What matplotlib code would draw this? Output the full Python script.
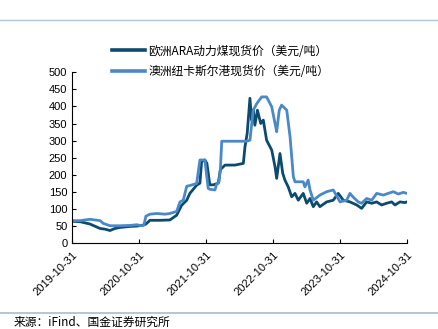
import pandas as pd
import matplotlib
matplotlib.use("Agg")
import matplotlib.pyplot as plt
from matplotlib.lines import Line2D

plt.rcParams['font.family'] = ['Liberation Sans', 'Noto Sans CJK SC', 'DejaVu Sans']

# 欧洲ARA动力煤现货价 (USD/t)
eu_dates = ['2019-10-31', '2019-12-12', '2020-02-05', '2020-03-31', '2020-04-27',
            '2020-05-24', '2020-06-20', '2020-07-17', '2020-09-10', '2020-10-17',
            '2020-11-22', '2020-12-06', '2020-12-28', '2021-02-21', '2021-04-16',
            '2021-05-23', '2021-06-19', '2021-07-17', '2021-08-03', '2021-09-09',
            '2021-09-27', '2021-10-06', '2021-10-24', '2021-11-04', '2021-11-20',
            '2021-12-09', '2022-01-05', '2022-01-17', '2022-02-11', '2022-04-06',
            '2022-05-22', '2022-05-31', '2022-06-12', '2022-06-27', '2022-07-06',
            '2022-07-15', '2022-07-24', '2022-08-07', '2022-08-25', '2022-09-08',
            '2022-09-26', '2022-10-24', '2022-11-11', '2022-11-20', '2022-12-08',
            '2022-12-23', '2023-01-04', '2023-01-22', '2023-02-10', '2023-02-28',
            '2023-03-18', '2023-04-14', '2023-05-03', '2023-05-21', '2023-06-08',
            '2023-06-26', '2023-07-14', '2023-08-20', '2023-09-25', '2023-10-22',
            '2023-11-19', '2023-12-25', '2024-01-31', '2024-02-27', '2024-03-25',
            '2024-04-22', '2024-05-19', '2024-06-15', '2024-07-12', '2024-08-09',
            '2024-08-27', '2024-09-23', '2024-10-20', '2024-10-31']
eu_values = [63, 62, 55, 42, 40,
             36, 42, 45, 48, 49,
             52, 55, 66, 66, 67,
             81, 110, 125, 145, 169,
             175, 238, 243, 233, 170,
             170, 175, 215, 228, 228,
             233, 282, 321, 424, 360,
             390, 345, 389, 350, 360,
             301, 272, 223, 189, 262,
             204, 184, 164, 135, 145,
             125, 145, 116, 130, 106,
             120, 106, 120, 125, 145,
             125, 120, 111, 101, 120,
             116, 120, 111, 116, 120,
             111, 120, 118, 120]

# 澳洲纽卡斯尔港现货价 (USD/t)
au_dates = ['2019-10-31', '2019-12-12', '2020-02-05', '2020-03-03', '2020-03-31',
            '2020-04-17', '2020-05-24', '2020-07-17', '2020-09-10', '2020-10-17',
            '2020-11-13', '2020-11-25', '2020-12-06', '2020-12-28', '2021-02-03',
            '2021-03-20', '2021-04-16', '2021-05-23', '2021-06-10', '2021-06-28',
            '2021-07-17', '2021-08-03', '2021-09-09', '2021-09-27', '2021-10-24',
            '2021-11-11', '2021-11-20', '2021-12-18', '2021-12-27', '2022-01-09',
            '2022-01-17', '2022-01-24', '2022-06-09', '2022-06-27', '2022-07-15',
            '2022-08-04', '2022-08-30', '2022-09-26', '2022-10-24', '2022-11-11',
            '2022-11-20', '2022-12-04', '2022-12-17', '2023-01-14', '2023-02-01',
            '2023-02-19', '2023-02-28', '2023-04-14', '2023-04-23', '2023-05-11',
            '2023-05-21', '2023-06-08', '2023-07-14', '2023-08-20', '2023-09-25',
            '2023-11-01', '2023-12-07', '2023-12-25', '2024-01-10', '2024-02-08',
            '2024-02-27', '2024-03-25', '2024-04-22', '2024-05-19', '2024-06-24',
            '2024-07-21', '2024-08-18', '2024-09-14', '2024-10-11', '2024-10-31']
au_values = [65, 65, 69, 67, 65,
             57, 50, 50, 51, 53,
             50, 52, 78, 84, 86,
             84, 86, 92, 120, 125,
             166, 168, 174, 243, 243,
             160, 157, 155, 172, 178,
             220, 298, 298, 301, 389,
             409, 428, 428, 399, 350,
             326, 389, 404, 389, 311,
             194, 179, 179, 164, 184,
             155, 125, 140, 150, 155,
             120, 125, 145, 135, 120,
             116, 130, 125, 145, 140,
             145, 150, 143, 148, 145]

labels = ['欧洲ARA动力煤现货价（美元/吨）', '澳洲纽卡斯尔港现货价（美元/吨）']
colors = ['#0c4a6e', '#4a88c7']
year_ticks = ['2019-10-31', '2020-10-31', '2021-10-31', '2022-10-31', '2023-10-31', '2024-10-31']

fig = plt.figure(figsize=(4.38, 3.29), dpi=100)
ax = fig.add_axes([0.165, 0.262, 0.764, 0.518])

ax.plot(pd.to_datetime(eu_dates), eu_values, color=colors[0], lw=2.0)
ax.plot(pd.to_datetime(au_dates), au_values, color=colors[1], lw=2.0)

ax.set_ylim(0, 500)
ax.set_yticks(range(0, 501, 50))
ticks = pd.to_datetime(year_ticks)
ax.set_xlim(ticks[0], ticks[-1])
ax.set_xticks(ticks)
ax.set_xticklabels(year_ticks, rotation=45, ha='right', rotation_mode='anchor')
ax.tick_params(axis='both', direction='in', length=3, labelsize=8, colors='black')
ax.tick_params(axis='x', pad=5)
for s in ['top', 'right']:
    ax.spines[s].set_visible(False)

handles = [Line2D([], [], color=c, lw=2.6) for c in colors]
fig.legend(handles, labels, loc='upper left', bbox_to_anchor=(0.232, 0.897),
           frameon=False, handlelength=2.75, handletextpad=0.3, labelspacing=0.65,
           prop={'family': ['Noto Sans CJK SC'], 'size': 8.5})

fig.add_artist(Line2D([0, 1], [1 - 20 / 329, 1 - 20 / 329], color='#b4c4d3', lw=1.0))
fig.add_artist(Line2D([0, 1], [1 - 312.5 / 329, 1 - 312.5 / 329], color='#a9bccd', lw=1.2))
fig.text(0.03, 1 - 322 / 329, '来源：iFind、国金证券研究所', fontsize=8.5,
         family=['Noto Sans CJK SC'], va='center', ha='left')

fig.savefig('out.png', dpi=100)
